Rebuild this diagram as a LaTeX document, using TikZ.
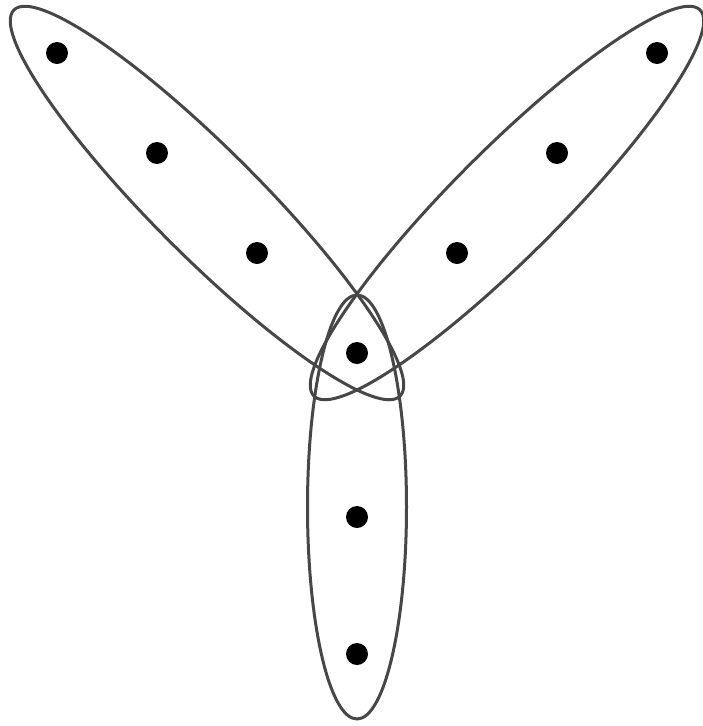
\documentclass[tikz,border=0pt]{standalone}
\begin{document}
\begin{tikzpicture}[x=1pt,y=-1pt,
  blob/.style={draw=black!72,line width=3pt},
  pt/.style={circle,fill=black,inner sep=0pt,minimum size=22pt}]
\useasboundingbox (0,0) rectangle (703,726);
\node[pt] (a1) at (57,53) {};
\node[pt] (a2) at (157,153) {};
\node[pt] (a3) at (257,253) {};
\node[pt] (c) at (357,353) {};
\node[pt] (b1) at (457,253) {};
\node[pt] (b2) at (557,153) {};
\node[pt] (b3) at (657,53) {};
\node[pt] (d1) at (357,517) {};
\node[pt] (d2) at (357,654) {};
\draw[blob,rotate around={-45:(207,203)}] (207,203) ellipse [x radius=273, y radius=53.5];
\draw[blob,rotate around={45:(507,203)}] (507,203) ellipse [x radius=273, y radius=53.5];
\draw[blob] (357,507) ellipse [x radius=49.5, y radius=212];
\end{tikzpicture}
\end{document}
